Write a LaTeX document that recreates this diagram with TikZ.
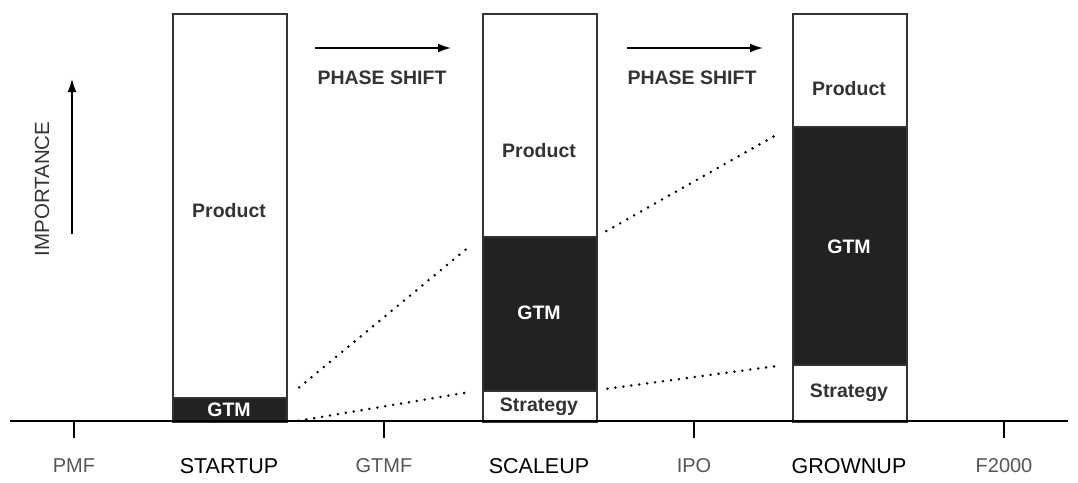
\documentclass[tikz,border=0pt]{standalone}
\usepackage{fontspec}
\setmainfont{Liberation Sans}
\usetikzlibrary{arrows.meta}
\definecolor{ink}{HTML}{333333}
\definecolor{dark}{HTML}{222222}
\definecolor{soft}{HTML}{555555}
\tikzset{
  seg/.style={draw=ink, line width=1.6pt, minimum width=114pt, anchor=north west, inner sep=0pt},
  whiteseg/.style={seg, fill=white},
  blackseg/.style={seg, fill=dark},
  lbl/.style={font=\fontsize{19.5}{19.5}\selectfont\bfseries, text=ink},
  wlbl/.style={lbl, text=white},
  dots/.style={line width=2.8pt, dash pattern=on 0pt off 8pt, line cap=round},
  axislbl/.style={font=\fontsize{20}{20}\selectfont, text=soft},
  phaselbl/.style={font=\fontsize{21.5}{21.5}\selectfont, text=black},
  shiftlbl/.style={font=\fontsize{19.5}{19.5}\selectfont\bfseries, text=ink},
  arr/.style={line width=1.6pt, -{Latex[length=13pt,width=9pt]}}
}
\begin{document}
\begin{tikzpicture}[x=1pt,y=-1pt]
\useasboundingbox (0,0) rectangle (1078,482);
% STARTUP bar
\node[whiteseg, minimum height=384pt] (s1p) at (172,13) {};
\node[blackseg, minimum height=24pt] (s1g) at (172,397) {};
% SCALEUP bar
\node[whiteseg, minimum height=223pt] (s2p) at (482,13) {};
\node[blackseg, minimum height=154pt] (s2g) at (482,236) {};
\node[whiteseg, minimum height=31pt] (s2s) at (482,390) {};
% GROWNUP bar
\node[whiteseg, minimum height=113pt] (s3p) at (792,13) {};
\node[blackseg, minimum height=238pt] (s3g) at (792,126) {};
\node[whiteseg, minimum height=57pt] (s3s) at (792,364) {};
% labels inside bars
\node[lbl] (l1p) at (229,211) {Product};
\node[wlbl] (l1g) at (229,410) {GTM};
\node[lbl] (l2p) at (539,151) {Product};
\node[wlbl] (l2g) at (539,313) {GTM};
\node[lbl] (l2s) at (539,407) {Strategy};
\node[lbl] (l3p) at (849,89) {Product};
\node[wlbl] (l3g) at (849,247) {GTM};
\node[lbl] (l3s) at (849,393) {Strategy};
% dotted projections
\draw[dots, shorten <=15pt, shorten >=15pt] (s1g.north east) -- (s2g.north west);
\draw[dots, shorten <=11pt, shorten >=11pt] (s1g.south east) -- (s2s.north west);
\draw[dots, shorten <=10pt, shorten >=14pt] (s2g.north east) -- (s3g.north west);
\draw[dots, shorten <=10pt, shorten >=12pt] (s2s.north east) -- (s3s.north west);
% phase shift arrows
\coordinate (a1s) at (315,48); \coordinate (a1e) at (451,48);
\coordinate (a2s) at (627,48); \coordinate (a2e) at (763,48);
\draw[arr] (a1s) -- (a1e);
\draw[arr] (a2s) -- (a2e);
\node[shiftlbl] (ps1) at (382,78) {PHASE SHIFT};
\node[shiftlbl] (ps2) at (692,78) {PHASE SHIFT};
% importance
\coordinate (i1) at (72,234); \coordinate (i2) at (72,79);
\draw[arr, line width=1.4pt] (i1) -- (i2);
\node[rotate=90, font=\fontsize{20.5}{20.5}\selectfont, text=ink] (imp) at (42,189) {IMPORTANCE};
% axis
\coordinate (ax1) at (10,421); \coordinate (ax2) at (1068,421);
\draw[line width=2.2pt] (ax1) -- (ax2);
\foreach \x/\n in {74/t1,384/t2,694/t3,1004/t4}{
  \coordinate (\n a) at (\x,421); \coordinate (\n b) at (\x,438);
  \draw[line width=2pt] (\n a) -- (\n b);
}
\node[axislbl] (pmf) at (74,466) {PMF};
\node[phaselbl] (stu) at (229,466) {STARTUP};
\node[axislbl] (gtmf) at (384,466) {GTMF};
\node[phaselbl] (scu) at (539,466) {SCALEUP};
\node[axislbl] (ipo) at (694,466) {IPO};
\node[phaselbl] (gru) at (849,466) {GROWNUP};
\node[axislbl] (f2k) at (1004,466) {F2000};
\end{tikzpicture}
\end{document}
